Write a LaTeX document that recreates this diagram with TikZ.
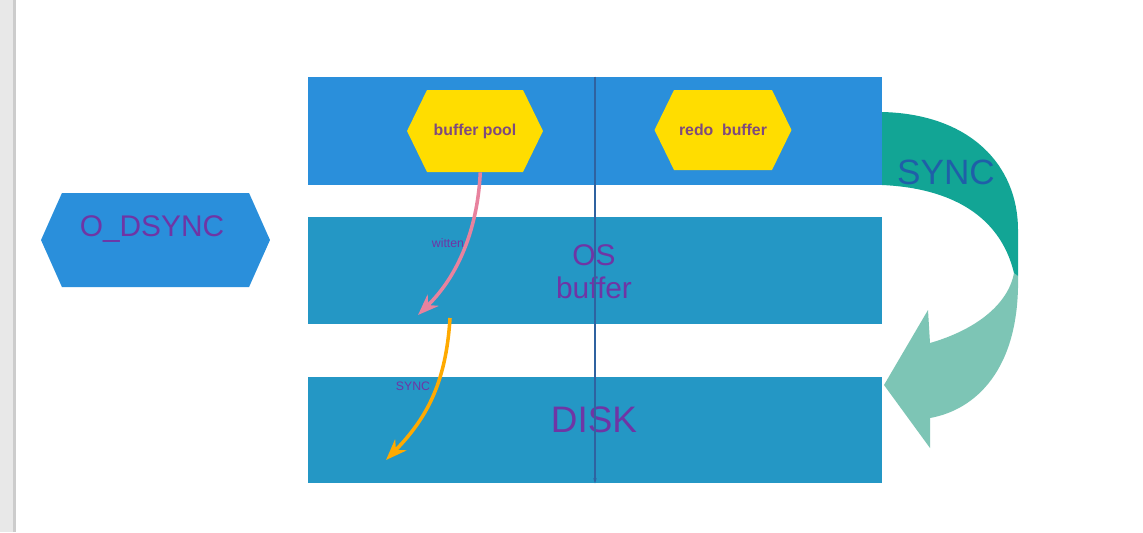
\documentclass[tikz,border=0pt]{standalone}
\usepackage{fontspec}
\setmainfont{Liberation Sans}
\usetikzlibrary{arrows.meta,shapes.symbols}

\definecolor{barblue}{HTML}{2A8FDB}
\definecolor{bufblue}{HTML}{2497C5}
\definecolor{hexyellow}{HTML}{FFDD00}
\definecolor{txtpurple}{HTML}{6F35A5}
\definecolor{hextxt}{HTML}{7E4A7E}
\definecolor{syncteal}{HTML}{12A595}
\definecolor{synclight}{HTML}{7DC5B5}
\definecolor{syncblue}{HTML}{1F5FA8}
\definecolor{pinkarrow}{HTML}{E8829E}
\definecolor{orangearrow}{HTML}{FFAA00}
\definecolor{splitline}{HTML}{2F62A0}

\tikzset{
  bar/.style={rectangle, inner sep=0pt, minimum width=11.48cm},
  hexbox/.style={signal, signal to=east and west, inner sep=0pt},
  bigtext/.style={text=txtpurple, align=center, inner sep=0pt},
  smalltext/.style={text=txtpurple, font=\fontsize{7}{8}\selectfont, inner sep=0pt}
}

\begin{document}
\begin{tikzpicture}[x=0.02cm,y=-0.02cm,>={Stealth}]
        \useasboundingbox[fill=white] (0,0) rectangle (1143,532);
        % left window edge
        \fill[black!9] (0,0) rectangle (13,532);
        \fill[black!20] (13,0) rectangle (16,532);

        % layers
        \node[bar, fill=barblue, minimum height=2.16cm] (top) at (595,131) {};
        \node[bar, fill=bufblue, minimum height=2.14cm] (os) at (595,270.5) {};
        \node[bar, fill=bufblue, minimum height=2.12cm] (disk) at (595,430) {};

        \node[hexbox, fill=hexyellow, signal pointer angle=128, minimum width=2.72cm, minimum height=1.64cm,
              font=\fontsize{9}{10}\selectfont\bfseries, text=hextxt] (bp) at (475,131) {buffer pool};
        \node[hexbox, fill=hexyellow, signal pointer angle=128, minimum width=2.74cm, minimum height=1.6cm,
              font=\fontsize{9}{10}\selectfont\bfseries, text=hextxt] (rb) at (723,130) {redo\ \ buffer};
        \node[hexbox, fill=barblue, signal pointer angle=132, minimum width=4.58cm, minimum height=1.88cm] (odsync) at (155.5,240) {};

        \node[bigtext, font=\fontsize{17}{17}\selectfont] (odsynclbl) at (152,229) {O\_DSYNC};
        \node[bigtext, font=\fontsize{17}{19}\selectfont] (oslbl) at (594,272) {OS\\buffer};
        \node[bigtext, font=\fontsize{21}{21}\selectfont] (disklbl) at (594,420) {DISK};

        % divider
        \draw[splitline, line width=0.6pt, -{Stealth[length=3pt,width=2pt]}] (top.north) -- (disk.south);

        % write and sync
        \coordinate (wend) at (418,315);
        \coordinate (sstart) at (450,318);
        \coordinate (send) at (386,460);
        \draw[pinkarrow, line width=2pt, ->] ([xshift=3pt]bp.south) .. controls (478,222) and (462,272) .. (wend);
        \draw[orangearrow, line width=2pt, ->] (sstart) .. controls (446,385) and (425,420) .. (send);
        \node[smalltext] (wittenlbl) at (448,243) {witten};
        \node[smalltext] (synclbl) at (413,386) {SYNC};

        % big sync arrow
        \fill[synclight] (1018,276) .. controls (1020,370) and (975,410) .. (930,418)
              -- (930,448) -- (884,385) -- (928,310) -- (930,343)
              .. controls (975,330) and (1008,305) .. (1014,273) -- cycle;
        \fill[syncteal] (882,112) .. controls (970,114) and (1018,165) .. (1018,230) -- (1018,276)
              -- (1014,273) .. controls (1000,215) and (950,188) .. (882,185) -- cycle;
        \node[text=syncblue, font=\fontsize{20}{20}\selectfont, inner sep=0pt] (bigsync) at (946,172) {SYNC};
\end{tikzpicture}
\end{document}
